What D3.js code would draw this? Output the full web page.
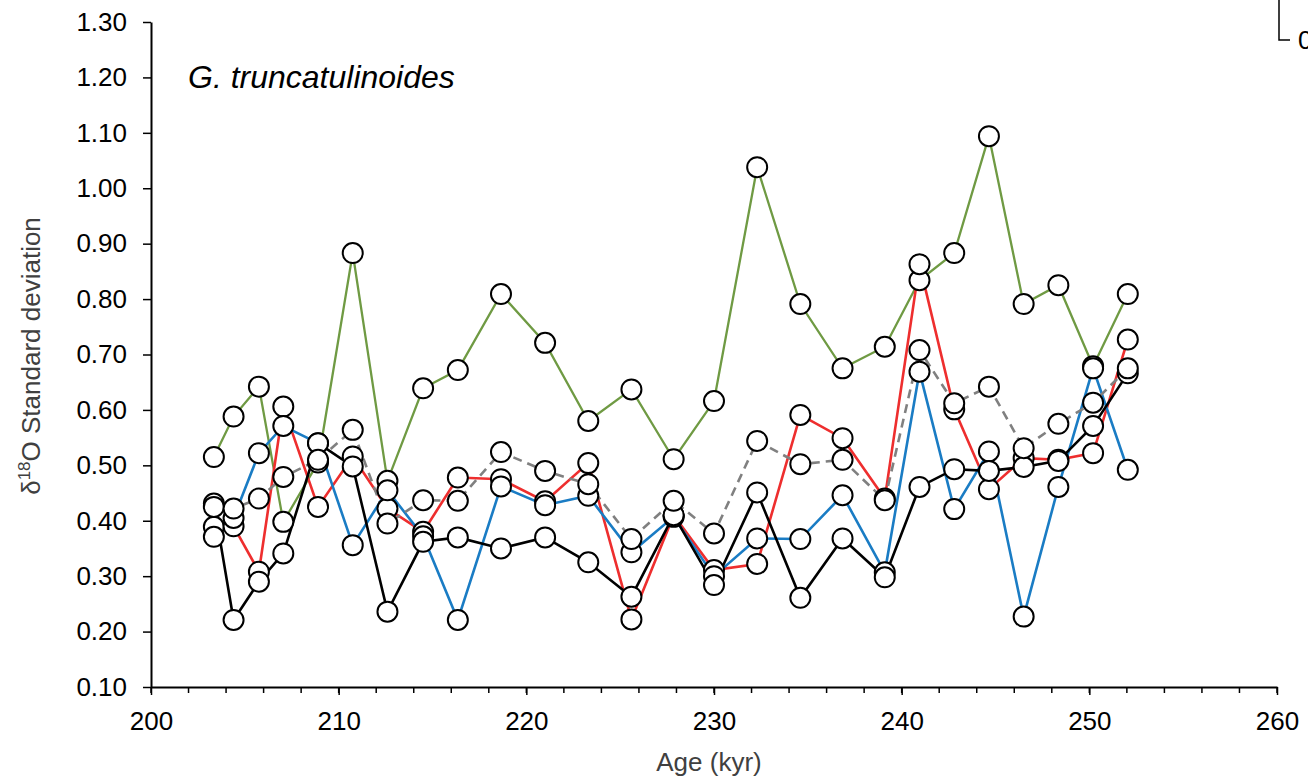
<!DOCTYPE html>
<html>
<head>
<script src="https://d3js.org/d3.v7.min.js"></script>
<style>
  body { margin: 0; background: #fff; }
  svg { font-family: "Liberation Sans", Arial, sans-serif; }
</style>
</head>
<body>
<svg id="chart" width="1308" height="778"></svg>
<script>
// ages (kyr) of the samples
var ages = [203.35, 204.4, 205.75, 207.05, 208.9, 210.75, 212.6, 214.5, 216.35, 218.65,
            221.0, 223.3, 225.6, 227.85, 230.0, 232.3, 234.6, 236.85, 239.1, 240.95,
            242.8, 244.65, 246.5, 248.35, 250.2, 252.05];

var greenSeries = [0.515, 0.588, 0.642, 0.398, 0.505, 0.883, 0.472, 0.639, 0.672, 0.809,
                   0.721, 0.580, 0.637, 0.511, 0.616, 1.038, 0.791, 0.675, 0.714, 0.834,
                   0.883, 1.094, 0.791, 0.825, 0.679, 0.809];
var redSeries = [0.389, 0.390, 0.308, 0.606, 0.425, 0.516, 0.422, 0.380, 0.478, 0.475,
                 0.435, 0.504, 0.222, 0.410, 0.311, 0.322, 0.591, 0.549, 0.440, 0.863,
                 0.601, 0.457, 0.513, 0.510, 0.522, 0.727];
var blueSeries = [0.371, 0.405, 0.522, 0.571, 0.540, 0.356, 0.455, 0.372, 0.221, 0.462,
                  0.428, 0.445, 0.343, 0.407, 0.300, 0.368, 0.367, 0.446, 0.307, 0.669,
                  0.421, 0.525, 0.227, 0.461, 0.675, 0.492];
var blackSeries = [0.431, 0.221, 0.290, 0.341, 0.540, 0.498, 0.236, 0.362, 0.370, 0.350,
                   0.370, 0.325, 0.263, 0.410, 0.284, 0.451, 0.261, 0.368, 0.298, 0.461,
                   0.493, 0.490, 0.497, 0.508, 0.571, 0.666];
var greySeries = [0.425, 0.422, 0.440, 0.479, 0.510, 0.564, 0.395, 0.437, 0.436, 0.524,
                  0.490, 0.466, 0.367, 0.436, 0.377, 0.544, 0.502, 0.510, 0.437, 0.708,
                  0.612, 0.642, 0.531, 0.575, 0.613, 0.675];

var yTicks = [0.1, 0.2, 0.3, 0.4, 0.5, 0.6, 0.7, 0.8, 0.9, 1.0, 1.1, 1.2, 1.3];
var xTicks = [200, 210, 220, 230, 240, 250, 260];
var xMinorTicks = d3.range(200, 261, 2);

var series = [
  {name: "green", values: greenSeries, color: "#6f9a43", width: 2.3, dash: null},
  {name: "red", values: redSeries, color: "#ee2e2e", width: 2.6, dash: null},
  {name: "blue", values: blueSeries, color: "#1a7cc4", width: 2.6, dash: null},
  {name: "black", values: blackSeries, color: "#000000", width: 2.6, dash: null},
  {name: "grey", values: greySeries, color: "#808080", width: 2.6, dash: "9,6"}
];

var svg = d3.select("#chart");
var x = d3.scaleLinear([200, 260], [151, 1277]);
var y = d3.scaleLinear([0.1, 1.3], [687, 22]);

// minor ticks on x
svg.append("g")
  .selectAll("line")
  .data(xMinorTicks)
  .join("line")
  .attr("x1", d => x(d)).attr("x2", d => x(d))
  .attr("y1", y(0.1)).attr("y2", y(0.1) + 6)
  .attr("stroke", "#000").attr("stroke-width", 1.5);

var xAxis = svg.append("g")
  .attr("transform", "translate(0," + y(0.1) + ")")
  .call(d3.axisBottom(x).tickValues(xTicks).tickSize(8).tickPadding(17).tickSizeOuter(0).tickFormat(d3.format("d")));

var yAxis = svg.append("g")
  .attr("transform", "translate(" + x(200) + ",0)")
  .call(d3.axisLeft(y).tickValues(yTicks).tickSize(8).tickPadding(16).tickSizeOuter(0).tickFormat(d3.format(".2f")));

[xAxis, yAxis].forEach(function(g) {
  g.select(".domain").attr("stroke", "#000").attr("stroke-width", 2);
  g.selectAll(".tick line").attr("stroke", "#000").attr("stroke-width", 1.5);
  g.selectAll(".tick text").attr("fill", "#000").style("font-size", "26px")
    .style("font-family", "'Liberation Sans', Arial, sans-serif");
});

// lines
var line = d3.line().x((d, i) => x(ages[i])).y(d => y(d));
svg.append("g")
  .selectAll("path")
  .data(series)
  .join("path")
  .attr("d", s => line(s.values))
  .attr("fill", "none")
  .attr("stroke", s => s.color)
  .attr("stroke-width", s => s.width)
  .attr("stroke-dasharray", s => s.dash);

// markers on top
svg.append("g")
  .selectAll("g")
  .data(series)
  .join("g")
  .selectAll("circle")
  .data(s => s.values)
  .join("circle")
  .attr("cx", (d, i) => x(ages[i]))
  .attr("cy", d => y(d))
  .attr("r", 10)
  .attr("fill", "#fff")
  .attr("stroke", "#000")
  .attr("stroke-width", 2);

// species label
svg.append("text")
  .attr("x", 188).attr("y", 88)
  .style("font-size", "32px").style("font-style", "italic")
  .attr("fill", "#000")
  .text("G. truncatulinoides");

// axis titles
svg.append("text")
  .attr("x", 709).attr("y", 771)
  .attr("text-anchor", "middle")
  .style("font-size", "26px")
  .attr("fill", "#404040")
  .text("Age (kyr)");

var yl = svg.append("text")
  .attr("transform", "translate(40," + 356 + ") rotate(-90)")
  .attr("text-anchor", "middle")
  .style("font-size", "26px")
  .attr("fill", "#404040");
yl.append("tspan").text("δ");
yl.append("tspan").attr("dy", -10).style("font-size", "17px").text("18");
yl.append("tspan").attr("dy", 10).text("O Standard deviation");

// piece of neighbouring panel, top right corner
svg.append("path")
  .attr("d", "M1279,0 V40 H1290")
  .attr("fill", "none").attr("stroke", "#000").attr("stroke-width", 1.5);
svg.append("text")
  .attr("x", 1298).attr("y", 49)
  .style("font-size", "26px").attr("fill", "#000")
  .text("0");
</script>
</body>
</html>
